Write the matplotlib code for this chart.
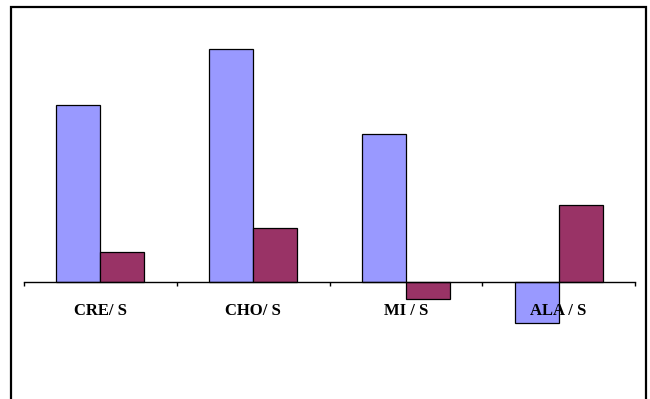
import numpy as np
import matplotlib
matplotlib.use("Agg")
import matplotlib.pyplot as plt
from matplotlib.patches import Rectangle

# ratios per metabolite, two series
categories = ["CRE/ S", "CHO/ S", "MI / S", "ALA / S"]
series_a = [1.77, 2.33, 1.48, -0.41]
series_b = [0.30, 0.54, -0.17, 0.77]

W, H = 650, 399
fig = plt.figure(figsize=(W / 100, H / 100), dpi=100)

# outer chart border, open at the bottom edge
fig.patches.append(Rectangle((11 / W, -0.05), 635 / W, (H - 7) / H + 0.05,
                             transform=fig.transFigure, fill=False,
                             edgecolor="black", linewidth=1.6))

ax = fig.add_axes([24 / W, (H - 352) / H, 611 / W, 320 / H])
ax.set_xlim(-0.5, len(categories) - 0.5)
ax.set_ylim(-0.70, 2.50)

x = np.arange(len(categories))
bw = 44 / 153
ax.bar(x - bw / 2, series_a, bw, color="#9999FF", edgecolor="black", linewidth=0.9, zorder=1)
ax.bar(x + bw / 2, series_b, bw, color="#993366", edgecolor="black", linewidth=0.9, zorder=1)

for s in ["top", "left", "right"]:
    ax.spines[s].set_visible(False)
ax.spines["bottom"].set_position(("data", 0))
ax.spines["bottom"].set_linewidth(1.0)
ax.spines["bottom"].set_zorder(2)

ax.set_yticks([])
ax.set_xticks(x)
ax.set_xticklabels(categories, family=["Liberation Serif", "DejaVu Serif"],
                   fontweight="bold", fontsize=12)
ax.tick_params(axis="x", which="major", length=0, pad=15.0)
ax.set_xticks(np.arange(-0.5, len(categories)), minor=True)
ax.tick_params(axis="x", which="minor", length=3, width=1.0, direction="out")

fig.savefig("out.png", dpi=100)
